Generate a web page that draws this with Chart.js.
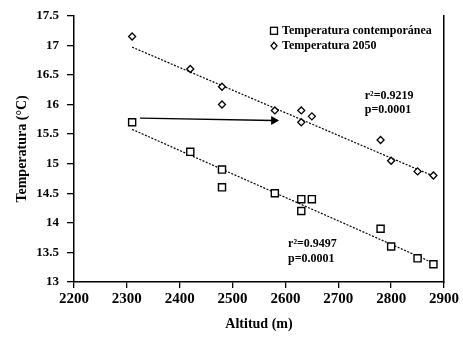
<!DOCTYPE html>
<html lang="es">
<head>
  <meta charset="UTF-8">
  <title>Temperatura y altitud</title>
  <script src="https://cdn.jsdelivr.net/npm/chart.js"></script>
  <style>
    html, body { margin: 0; padding: 0; background: #fff; }
    #wrap { width: 463px; height: 337px; }
  </style>
</head>
<body>

<div id="wrap"><canvas id="grafico" width="463" height="337"></canvas></div>

<script>
// datos: altitud (m) y temperatura (°C)
const altitud = [2310, 2420, 2480, 2480, 2580, 2630, 2630, 2650, 2780, 2800, 2850, 2880];
const tempContemp = [15.7, 15.2, 14.9, 14.6, 14.5, 14.4, 14.2, 14.4, 13.9, 13.6, 13.4, 13.3];
const temp2050 = [17.15, 16.6, 16.3, 16.0, 15.9, 15.9, 15.7, 15.8, 15.4, 15.05, 14.87, 14.8];

// rectas de regresión (extremos)
const ajusteX = [2310, 2880];
const ajusteContemp = [15.58, 13.32];
const ajuste2050 = [16.97, 14.79];

// flecha entre series
const flechaX = [2325, 2578];
const flechaY = [15.77, 15.73];

const ticksX = [2200, 2300, 2400, 2500, 2600, 2700, 2800, 2900];
const ticksY = [13, 13.5, 14, 14.5, 15, 15.5, 16, 16.5, 17, 17.5];

const leyenda = ['Temperatura contemporánea', 'Temperatura 2050'];
const stats2050 = ['r²=0.9219', 'p=0.0001'];
const statsContemp = ['r²=0.9497', 'p=0.0001'];

const serif = '"Liberation Serif", "DejaVu Serif", serif';

const pares = (xs, ys) => xs.map((x, i) => ({ x: x, y: ys[i] }));

// leyenda y textos dentro del área del gráfico
const textos = {
  id: 'textos',
  afterDatasetsDraw(chart) {
    const ctx = chart.ctx;
    const a = chart.chartArea;
    const sx = chart.scales.x, sy = chart.scales.y;
    ctx.save();
    ctx.fillStyle = '#000';
    ctx.strokeStyle = '#000';
    ctx.lineWidth = 1.3;
    ctx.font = 'bold 12px ' + serif;
    ctx.textBaseline = 'middle';
    ctx.textAlign = 'left';

    // leyenda
    const lx = a.right - 170, ly = a.top + 15;
    ctx.strokeRect(lx - 3.5, ly - 3.5, 7, 7);
    ctx.fillText(leyenda[0], lx + 8, ly);
    ctx.beginPath();
    ctx.moveTo(lx, ly + 15 - 3.5);
    ctx.lineTo(lx + 3, ly + 15);
    ctx.lineTo(lx, ly + 15 + 3.5);
    ctx.lineTo(lx - 3, ly + 15);
    ctx.closePath();
    ctx.stroke();
    ctx.fillText(leyenda[1], lx + 8, ly + 15);

    // estadísticos
    stats2050.forEach((t, i) => ctx.fillText(t, sx.getPixelForValue(2750), sy.getPixelForValue(16.15) + i * 14));
    statsContemp.forEach((t, i) => ctx.fillText(t, sx.getPixelForValue(2605), sy.getPixelForValue(13.65) + i * 15));
    ctx.restore();
  }
};

const ctx = document.getElementById('grafico').getContext('2d');
new Chart(ctx, {
  type: 'scatter',
  data: {
    datasets: [
      {
        label: leyenda[0],
        data: pares(altitud, tempContemp),
        pointStyle: 'rect',
        pointRadius: 5,
        borderColor: '#000',
        backgroundColor: '#fff',
        borderWidth: 1.4,
        order: 0
      },
      {
        label: leyenda[1],
        data: pares(altitud, temp2050),
        pointStyle: 'rectRot',
        pointRadius: 3.5,
        borderColor: '#000',
        backgroundColor: '#fff',
        borderWidth: 1.3,
        order: 0
      },
      {
        data: pares(ajusteX, ajusteContemp),
        showLine: true,
        pointRadius: 0,
        borderColor: '#000',
        borderWidth: 1.2,
        borderDash: [2, 1.5],
        order: 1
      },
      {
        data: pares(ajusteX, ajuste2050),
        showLine: true,
        pointRadius: 0,
        borderColor: '#000',
        borderWidth: 1.2,
        borderDash: [2, 1.5],
        order: 1
      },
      {
        data: pares(flechaX, flechaY),
        showLine: true,
        pointStyle: 'triangle',
        pointRadius: [0, 4],
        rotation: 90,
        borderColor: '#000',
        backgroundColor: '#000',
        borderWidth: 1.3,
        order: 1
      }
    ]
  },
  options: {
    responsive: false,
    animation: false,
    layout: { autoPadding: false, padding: { top: 13, right: 19, left: 0, bottom: 0 } },
    plugins: {
      legend: { display: false },
      tooltip: { enabled: false }
    },
    scales: {
      x: {
        type: 'linear',
        min: 2200,
        max: 2900,
        afterBuildTicks: s => { s.ticks = ticksX.map(v => ({ value: v })); },
        afterFit: s => { s.height = 55; },
        border: { color: '#000', width: 1.5 },
        grid: { drawOnChartArea: false, drawTicks: true, tickLength: 6, color: '#000', lineWidth: 1.3 },
        ticks: {
          color: '#000', padding: 2, maxRotation: 0,
          callback: v => String(v),
          font: { family: serif, size: 15, weight: 'bold' }
        },
        title: {
          display: true,
          text: 'Altitud (m)',
          color: '#000',
          padding: { top: 0, bottom: 4 },
          font: { family: serif, size: 14, weight: 'bold' }
        }
      },
      y: {
        min: 13,
        max: 17.5,
        afterBuildTicks: s => { s.ticks = ticksY.map(v => ({ value: v })); },
        afterFit: s => { s.width = 74; },
        border: { color: '#000', width: 1.5 },
        grid: { drawOnChartArea: false, drawTicks: true, tickLength: 7, color: '#000', lineWidth: 1.3 },
        ticks: {
          color: '#000', padding: 8,
          callback: v => String(v),
          font: { family: serif, size: 13, weight: 'bold' }
        },
        title: {
          display: true,
          text: 'Temperatura (°C)',
          color: '#000',
          padding: { top: 14, bottom: 0 },
          font: { family: serif, size: 14, weight: 'bold' }
        }
      },
      derecha: {
        type: 'linear',
        position: 'right',
        min: 13,
        max: 17.5,
        afterFit: s => { s.width = 0; },
        border: { display: true, color: '#000', width: 1.5 },
        grid: { display: false },
        ticks: { display: false }
      }
    }
  },
  plugins: [textos]
});
</script>

</body>
</html>
